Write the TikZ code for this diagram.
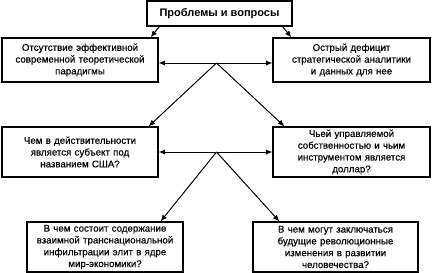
\documentclass[tikz,border=0pt]{standalone}
\usepackage{fontspec}
\setmainfont{Liberation Sans}
\newfontfamily\boxfont[FakeBold=0.4]{Liberation Sans}
\usetikzlibrary{arrows.meta}

\tikzset{
  box/.style={draw,line width=1.3pt,align=center,inner sep=1pt,
    font=\boxfont\fontsize{9.7}{11.8}\selectfont},
  arr/.style={line width=1pt,-{Latex[length=6.5pt,width=5.5pt]}},
  arr2/.style={line width=1pt,{Latex[length=6.5pt,width=5.5pt]}-{Latex[length=6.5pt,width=5.5pt]}}
}

\begin{document}
\begin{tikzpicture}[x=1pt,y=-1pt]
\useasboundingbox (0,0) rectangle (432,273);
% title
\node[box,minimum width=145pt,minimum height=25pt,font=\fontsize{11}{13}\selectfont\bfseries] (top) at (219.5,13.5) {Проблемы и вопросы};
% first row
\node[box,minimum width=156pt,minimum height=44pt,text width=154pt] (a1) at (80,60)
  {Отсутствие эффективной\\современной теоретической\\парадигмы};
\node[box,minimum width=157pt,minimum height=44pt,text width=154pt] (b1) at (351.5,60)
  {Острый дефицит\\стратегической аналитики\\и данных для нее};
% second row
\node[box,minimum width=156pt,minimum height=50pt,text width=154pt] (a2) at (80,152)
  {Чем в действительности\\является субъект под\\названием США?};
\node[box,minimum width=157pt,minimum height=50pt,text width=154pt] (b2) at (351.5,152)
  {Чьей управляемой\\собственностью и чьим\\инструментом является\\доллар?};
% third row
\node[box,minimum width=156pt,minimum height=50pt,text width=154pt] (a3) at (105,247)
  {В чем состоит содержание\\взаимной транснациональной\\инфильтрации элит в ядре\\мир-экономики?};
\node[box,minimum width=165pt,minimum height=50pt,text width=160pt] (b3) at (335.5,247)
  {В чем могут заключаться\\будущие революционные\\изменения в развитии\\человечества?};

% connectors
\draw[arr] ([xshift=13pt]top.south west) -- ([xshift=-8pt]a1.north east);
\draw[arr] ([xshift=-10pt]top.south east) -- ([xshift=19pt]b1.north west);
\draw[arr2] ([yshift=-3pt]a1.east) -- ([yshift=-3pt]b1.west);
\coordinate (m1) at (216.5,63);
\draw[arr] (m1) -- ([xshift=-10pt]a2.north east);
\draw[arr] (m1) -- ([xshift=12pt]b2.north west);
\draw[arr2] (a2.east) -- (b2.west);
\coordinate (m2) at (216.5,152);
\draw[arr] (m2) -- ([xshift=-23pt]a3.north east);
\draw[arr] (m2) -- ([xshift=27pt]b3.north west);
\end{tikzpicture}
\end{document}
